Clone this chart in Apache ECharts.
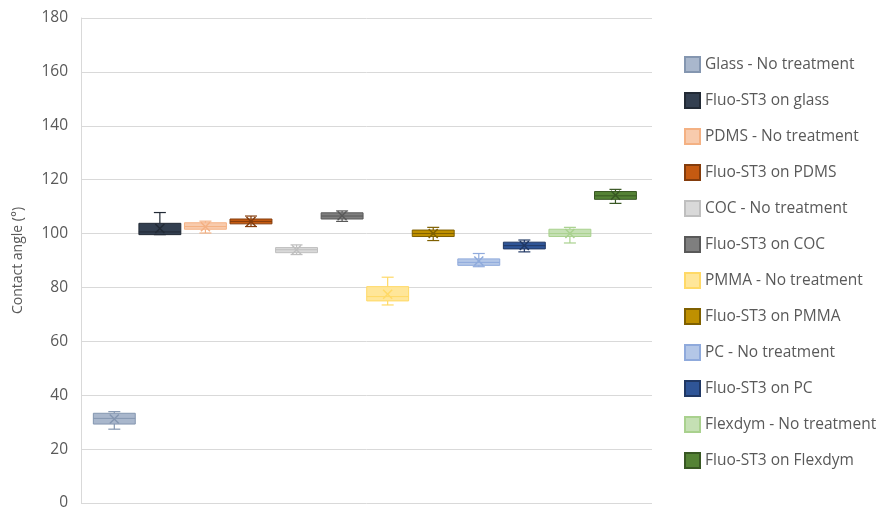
<!DOCTYPE html>
<html>
<head>
<meta charset="utf-8">
<script src="https://cdn.jsdelivr.net/npm/echarts@6/dist/echarts.min.js"></script>
<style>
  html, body { margin: 0; padding: 0; background: #fff; }
  #chart { width: 881px; height: 516px; }
</style>
</head>
<body>
<div id="chart"></div>
<script>
// series names (one box each)
var names = [
    'Glass - No treatment', 'Fluo-ST3 on glass',
    'PDMS - No treatment', 'Fluo-ST3 on PDMS',
    'COC - No treatment', 'Fluo-ST3 on COC',
    'PMMA - No treatment', 'Fluo-ST3 on PMMA',
    'PC - No treatment', 'Fluo-ST3 on PC',
    'Flexdym - No treatment', 'Fluo-ST3 on Flexdym'
];

// box statistics (degrees)
var mins    = [27.4,  99.6, 100.2, 102.6, 92.2, 104.5, 73.5,  97.4, 87.7, 93.2,  96.5, 111.2];
var q1s     = [29.3,  99.6, 101.6, 103.6, 92.9, 105.4, 75.0,  98.9, 88.2, 94.3,  98.9, 112.7];
var medians = [31.4, 100.6, 102.6, 104.5, 94.0, 106.5, 76.6, 100.0, 89.3, 95.5, 100.0, 114.0];
var q3s     = [33.3, 103.8, 104.0, 105.4, 94.8, 107.7, 80.3, 101.3, 90.6, 96.8, 101.6, 115.6];
var maxs    = [33.9, 107.8, 104.6, 106.5, 95.8, 108.4, 83.8, 102.3, 92.6, 97.6, 102.3, 116.4];
var means   = [31.2, 101.9, 102.5, 104.5, 94.0, 106.6, 77.5, 100.0, 89.8, 95.6, 100.0, 114.2];

// y axis ticks
var yTicks = [0, 20, 40, 60, 80, 100, 120, 140, 160, 180];

// palette (fill / outline)
var fills   = ['#a9b7cc', '#333f50', '#f8cbad', '#c55a11', '#d9d9d9', '#7f7f7f',
               '#ffe699', '#bf9000', '#b4c7e7', '#2f5597', '#c5e0b4', '#548235'];
var borders = ['#8496b0', '#222a35', '#f4b183', '#843c0c', '#bfbfbf', '#595959',
               '#ffd966', '#7f6000', '#8faadc', '#203864', '#a9d18e', '#385723'];

var chart = echarts.init(document.getElementById('chart'));

function makeRender(idx) {
    return function (params, api) {
        var x = api.value(0);
        var pMin = api.coord([x, api.value(1)]);
        var pQ1 = api.coord([x, api.value(2)]);
        var pMed = api.coord([x, api.value(3)]);
        var pQ3 = api.coord([x, api.value(4)]);
        var pMax = api.coord([x, api.value(5)]);
        var pMean = api.coord([x, api.value(6)]);
        var cx = pMed[0];
        var w = api.size([0.92, 0])[0];
        var cap = 6;
        var xs = 4.5;
        var stroke = borders[idx];
        var line = function (x1, y1, x2, y2, lw) {
            return {
                type: 'line',
                shape: { x1: x1, y1: y1, x2: x2, y2: y2 },
                style: { stroke: stroke, lineWidth: lw || 1.2 }
            };
        };
        return {
            type: 'group',
            children: [
                line(cx, pMax[1], cx, pQ3[1]),
                line(cx, pQ1[1], cx, pMin[1]),
                line(cx - cap, pMax[1], cx + cap, pMax[1]),
                line(cx - cap, pMin[1], cx + cap, pMin[1]),
                {
                    type: 'rect',
                    shape: { x: cx - w / 2, y: pQ3[1], width: w, height: pQ1[1] - pQ3[1] },
                    style: { fill: fills[idx], stroke: stroke, lineWidth: 1 }
                },
                line(cx - w / 2, pMed[1], cx + w / 2, pMed[1], 1),
                line(cx - xs, pMean[1] - xs, cx + xs, pMean[1] + xs, 1.5),
                line(cx - xs, pMean[1] + xs, cx + xs, pMean[1] - xs, 1.5)
            ]
        };
    };
}

var series = names.map(function (name, i) {
    return {
        name: name,
        type: 'custom',
        renderItem: makeRender(i),
        itemStyle: { color: fills[i], borderColor: borders[i], borderWidth: 1 },
        encode: { x: 0, y: [1, 2, 3, 4, 5, 6] },
        data: [[i, mins[i], q1s[i], medians[i], q3s[i], maxs[i], means[i]]]
    };
});

var option = {
    animation: false,
    backgroundColor: '#ffffff',
    textStyle: { fontFamily: 'Open Sans' },
    grid: { left: 81, right: 229, top: 18, bottom: 13 },
    legend: {
        data: names,
        orient: 'vertical',
        left: 679,
        top: 51,
        itemWidth: 15,
        itemHeight: 15,
        itemGap: 19,
        icon: 'rect',
        textStyle: { color: '#595959', fontSize: 15.5, fontFamily: 'Open Sans' }
    },
    xAxis: {
        type: 'value',
        min: -0.731,
        max: 11.802,
        show: false
    },
    yAxis: {
        type: 'value',
        min: yTicks[0],
        max: yTicks[yTicks.length - 1],
        interval: yTicks[1] - yTicks[0],
        name: 'Contact angle (°)',
        nameLocation: 'middle',
        nameGap: 56,
        nameTextStyle: { color: '#595959', fontSize: 14, fontFamily: 'Open Sans' },
        axisLine: { show: true, onZero: false, lineStyle: { color: '#d9d9d9' } },
        axisTick: { show: false },
        axisLabel: { color: '#595959', fontSize: 15.5, margin: 13, fontFamily: 'Open Sans' },
        splitLine: { lineStyle: { color: '#d9d9d9' } }
    },
    series: series
};

chart.setOption(option);
</script>
</body>
</html>
